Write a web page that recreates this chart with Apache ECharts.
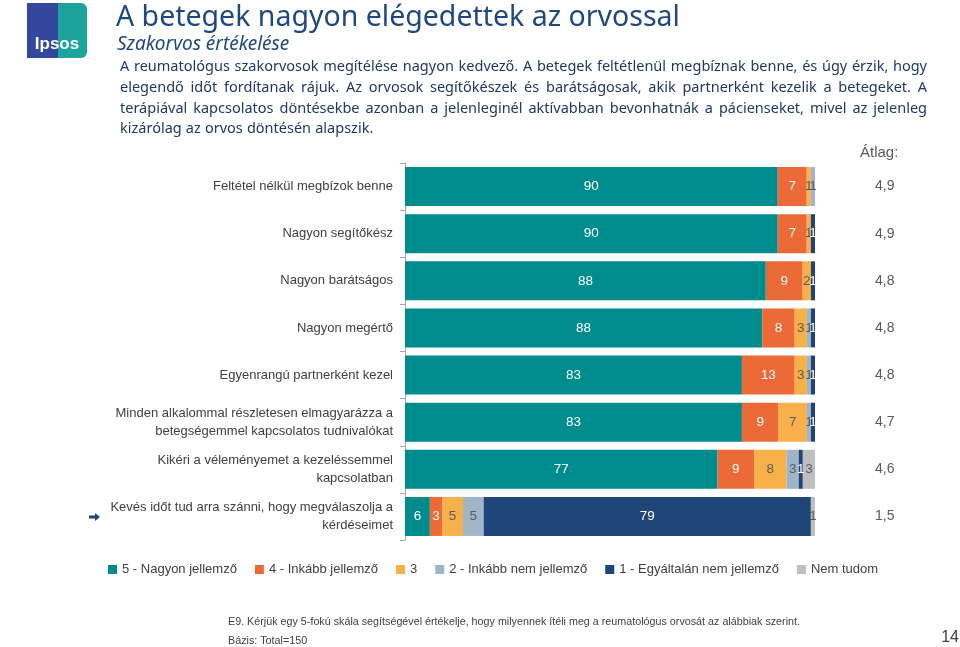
<!DOCTYPE html>
<html><head><meta charset="utf-8">
<script src="https://cdn.jsdelivr.net/npm/echarts@6/dist/echarts.min.js"></script>
<style>html,body{margin:0;padding:0;background:#fff}#c{width:960px;height:647px}</style>
</head><body><div id="c"></div>
<script>
const categories = [
  'Feltétel nélkül megbízok benne',
  'Nagyon segítőkész',
  'Nagyon barátságos',
  'Nagyon megértő',
  'Egyenrangú partnerként kezel',
  'Minden alkalommal részletesen elmagyarázza a\nbetegségemmel kapcsolatos tudnivalókat',
  'Kikéri a véleményemet a kezeléssemmel\nkapcsolatban',
  'Kevés időt tud arra szánni, hogy megválaszolja a\nkérdéseimet'
];
const seriesNames = ['5 - Nagyon jellemző','4 - Inkább jellemző','3','2 - Inkább nem jellemző','1 - Egyáltalán nem jellemző','Nem tudom'];
const s5 = [90, 90, 88, 88, 83, 83, 77, 6];
const s4 = [7, 7, 9, 8, 13, 9, 9, 3];
const s3 = [1, 1, 2, 3, 3, 7, 8, 5];
const s2 = [1, 0, 0, 1, 1, 1, 3, 5];
const s1 = [0, 1, 1, 1, 1, 1, 1, 79];
const sNT = [0, 0, 0, 0, 0, 0, 3, 1];
const averages = ['4,9','4,9','4,8','4,8','4,8','4,7','4,6','1,5'];

const colors = ['#008B8C','#EC6A37','#F8B04B','#9FB6C9','#1F4478','#BFBFBF'];
const labelColors = ['#ffffff','#ffffff','#595959','#595959','#ffffff','#595959'];
const raw = [s5, s4, s3, s2, s1, sNT];
const rowSum = categories.map((_, i) => raw.reduce((a, s) => a + s[i], 0));

const series = raw.map((arr, k) => ({
  name: seriesNames[k],
  type: 'bar',
  stack: 'total',
  barWidth: 39,
  itemStyle: { color: colors[k] },
  label: {
    show: true,
    position: 'inside',
    color: labelColors[k],
    fontSize: 13.5,
    fontFamily: 'Liberation Sans',
    formatter: p => arr[p.dataIndex] ? String(arr[p.dataIndex]) : ''
  },
  emphasis: { disabled: true },
  data: arr.map((v, i) => v / rowSum[i] * 100)
}));

const chart = echarts.init(document.getElementById('c'), null, { renderer: 'canvas' });

const cv = document.createElement('canvas').getContext('2d');

// Justified paragraph
const paraLines = [
  'A reumatológus szakorvosok megítélése nagyon kedvező. A betegek feltétlenül megbíznak benne, és úgy érzik, hogy',
  'elegendő időt fordítanak rájuk. Az orvosok segítőkészek és barátságosak, akik partnerként kezelik a betegeket. A',
  'terápiával kapcsolatos döntésekbe azonban a jelenleginél aktívabban bevonhatnák a pácienseket, mivel az jelenleg',
  'kizárólag az orvos döntésén alapszik.'
];
const paraFont = '14.5px "Noto Sans"';
cv.font = paraFont;
const paraEls = [];
const pLeft = 120, pRight = 927, pTop = 67, pStep = 20.7;
paraLines.forEach((line, li) => {
  const y = pTop + li * pStep;
  const words = line.split(' ');
  const widths = words.map(w => cv.measureText(w).width);
  const total = widths.reduce((a, b) => a + b, 0);
  const spaceW = cv.measureText(' ').width;
  const last = li === paraLines.length - 1;
  const gap = last ? spaceW * 1.1 : (pRight - pLeft - total) / (words.length - 1);
  let x = pLeft;
  words.forEach((w, wi) => {
    paraEls.push({ type: 'text', x: x, y: y, style: { text: w, font: paraFont, fill: '#1F3864', textVerticalAlign: 'middle' } });
    x += widths[wi] + gap;
  });
});

// Footnote, condensed to match
const footFont = '11px "Liberation Sans"';
cv.font = footFont;
const footText = 'E9. Kérjük egy 5-fokú skála segítségével értékelje, hogy milyennek ítéli meg a reumatológus orvosát az alábbiak szerint.';
const footScale = 572 / cv.measureText(footText).width;

chart.setOption({
  animation: false,
  color: colors,
  grid: { left: 405, right: 145, top: 163, bottom: 107 },
  legend: {
    left: 103, top: 558,
    itemWidth: 9, itemHeight: 9, itemGap: 18,
    icon: 'rect',
    textStyle: { fontSize: 13, color: '#404040', fontFamily: 'Liberation Sans' },
    data: seriesNames
  },
  xAxis: { type: 'value', min: 0, max: 100, show: false },
  yAxis: [{
    type: 'category',
    inverse: true,
    data: categories,
    axisLine: { show: true, lineStyle: { color: '#A6A6A6' } },
    axisTick: { show: true, length: 5, lineStyle: { color: '#A6A6A6' } },
    axisLabel: { margin: 12, fontSize: 13, color: '#404040', fontFamily: 'Liberation Sans', lineHeight: 18, align: 'right' }
  }, {
    type: 'category',
    inverse: true,
    position: 'right',
    data: averages,
    axisLine: { show: false },
    axisTick: { show: false },
    axisLabel: { margin: 60, fontSize: 14, color: '#595959', fontFamily: 'Liberation Sans', align: 'left' }
  }],
  series: series,
  graphic: [
    // logo
    { type: 'rect', shape: { x: 27, y: 3, width: 31, height: 55 }, style: { fill: '#3447A0' } },
    { type: 'rect', shape: { x: 58, y: 3, width: 29, height: 55, r: [0, 6, 6, 0] }, style: { fill: '#1BA39C' } },
    { type: 'text', x: 57, y: 44, style: { text: 'Ipsos', font: 'bold 17px "Liberation Sans"', fill: '#ffffff', textAlign: 'center', textVerticalAlign: 'middle' } },
    // title
    { type: 'text', x: 116, y: 18, style: { text: 'A betegek nagyon elégedettek az orvossal', font: '28.5px "Noto Sans"', fill: '#1F497D', textVerticalAlign: 'middle' } },
    { type: 'text', x: 117, y: 45, style: { text: 'Szakorvos értékelése', font: 'italic 19px "Noto Sans"', fill: '#1F497D', textVerticalAlign: 'middle' } },
    ...paraEls,
    { type: 'text', x: 860, y: 153, style: { text: 'Átlag:', font: '15px "Liberation Sans"', fill: '#595959', textVerticalAlign: 'middle' } },
    // arrow
    { type: 'polygon', shape: { points: [[89, 515.5], [95, 515.5], [95, 513], [100, 517], [95, 521], [95, 518.5], [89, 518.5]] }, style: { fill: '#1F4478' } },
    // footnote
    { type: 'text', x: 228, y: 622, scaleX: footScale, style: { text: footText, font: footFont, fill: '#404040', textVerticalAlign: 'middle' } },
    { type: 'text', x: 228, y: 641, scaleX: footScale, style: { text: 'Bázis: Total=150', font: footFont, fill: '#404040', textVerticalAlign: 'middle' } },
    { type: 'text', x: 959, y: 638, style: { text: '14', font: '16px "Liberation Sans"', fill: '#404040', textAlign: 'right', textVerticalAlign: 'middle' } }
  ]
});
</script></body></html>
